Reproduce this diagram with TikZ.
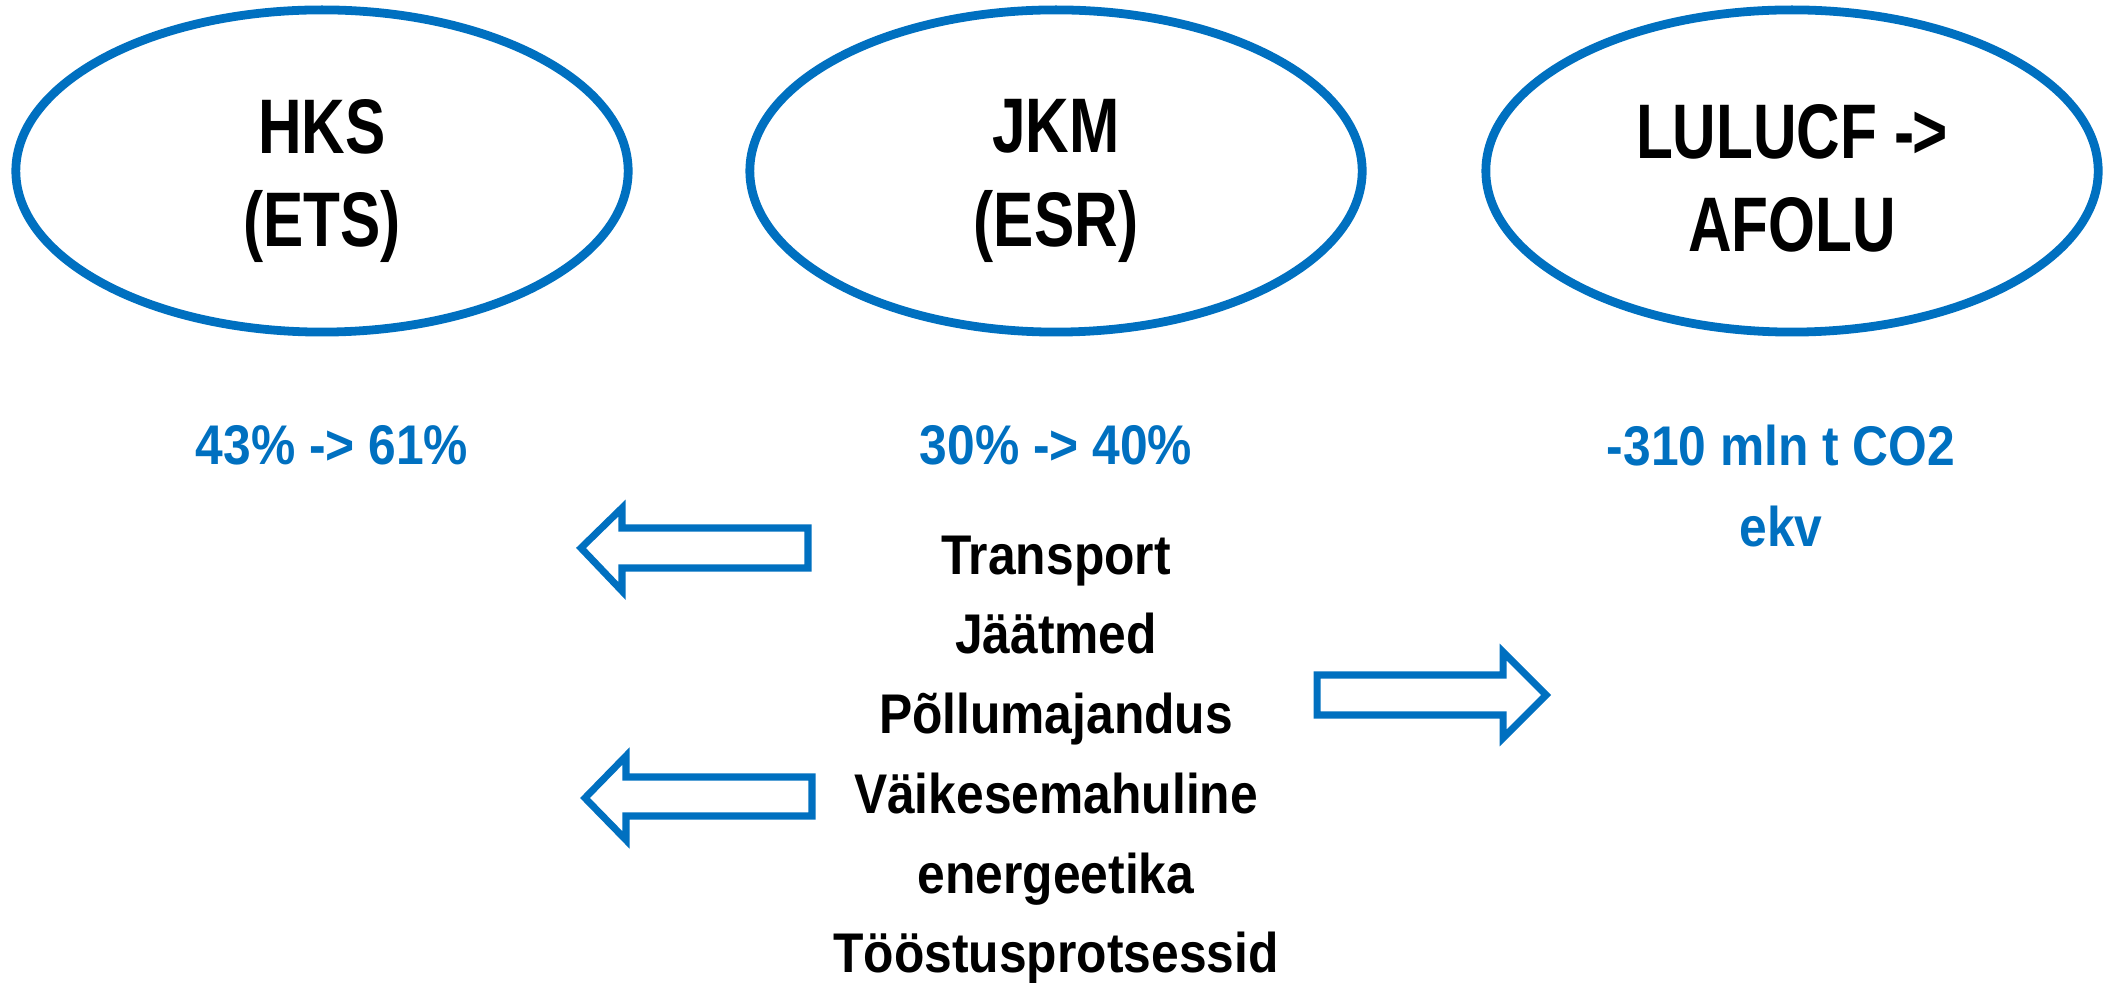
\documentclass[tikz,border=0pt]{standalone}
\usepackage{fontspec}
\usetikzlibrary{shapes.geometric}
\setmainfont{Liberation Sans}
\newfontfamily\ovalfont[FakeStretch=0.78]{Liberation Sans}
\newfontfamily\txtfont[FakeStretch=0.89]{Liberation Sans}
\definecolor{myblue}{HTML}{0070C0}
\begin{document}
\begin{tikzpicture}[x=0.01cm,y=-0.01cm,
  oval/.style={draw=myblue,line width=2.5pt,ellipse,minimum width=6.12cm,minimum height=3.22cm,inner sep=0pt},
  ovaltext/.style={align=center,inner sep=0pt,
    font=\ovalfont\bfseries\fontsize{22}{26.5}\selectfont},
  pct/.style={anchor=base,text=myblue,font=\txtfont\bfseries\fontsize{15.9}{19}\selectfont,inner sep=0pt},
  item/.style={anchor=base,text=black,font=\txtfont\bfseries\fontsize{15.9}{19}\selectfont,inner sep=0pt},
  hollow/.style={draw=myblue,line width=2pt,miter limit=10}]
\useasboundingbox (0,0) rectangle (2107,983);
\node[oval] (hks) at (322,171) {};
\node[oval] (jkm) at (1056,171) {};
\node[oval] (lulucf) at (1792,171) {};
\node[ovaltext] (hkst) at (322,181) {HKS\\(ETS)};
\node[ovaltext] (jkmt) at (1056,181) {JKM\\(ESR)};
\node[ovaltext] (lulucft) at (1792,178) {LULUCF -\kern-0.02em>\\AFOLU};
\node[pct] (p1) at (332,465) {43\% -> 61\%};
\node[pct] (p2) at (1056,465) {30\% -> 40\%};
\node[pct] (p3) at (1781,466) {-310 mln t CO2};
\node[pct] (p4) at (1781,547) {ekv};
\node[item] (l1) at (1056,575) {Transport};
\node[item] (l2) at (1056,654) {Jäätmed};
\node[item] (l3) at (1056,734) {Põllumajandus};
\node[item] (l4) at (1056,813) {Väikesemahuline};
\node[item] (l5) at (1056,893) {energeetika};
\node[item] (l6) at (1056,972) {Tööstusprotsessid};
\draw[hollow] (581,548) -- (622,508) -- (622,528) -- (808,528) -- (808,568) -- (622,568) -- (622,591) -- cycle;
\draw[hollow] (585,798) -- (626,756) -- (626,777) -- (812,777) -- (812,816) -- (626,816) -- (626,840) -- cycle;
\draw[hollow] (1546,695) -- (1503,652) -- (1503,675) -- (1317,675) -- (1317,715) -- (1503,715) -- (1503,738) -- cycle;
\end{tikzpicture}
\end{document}
